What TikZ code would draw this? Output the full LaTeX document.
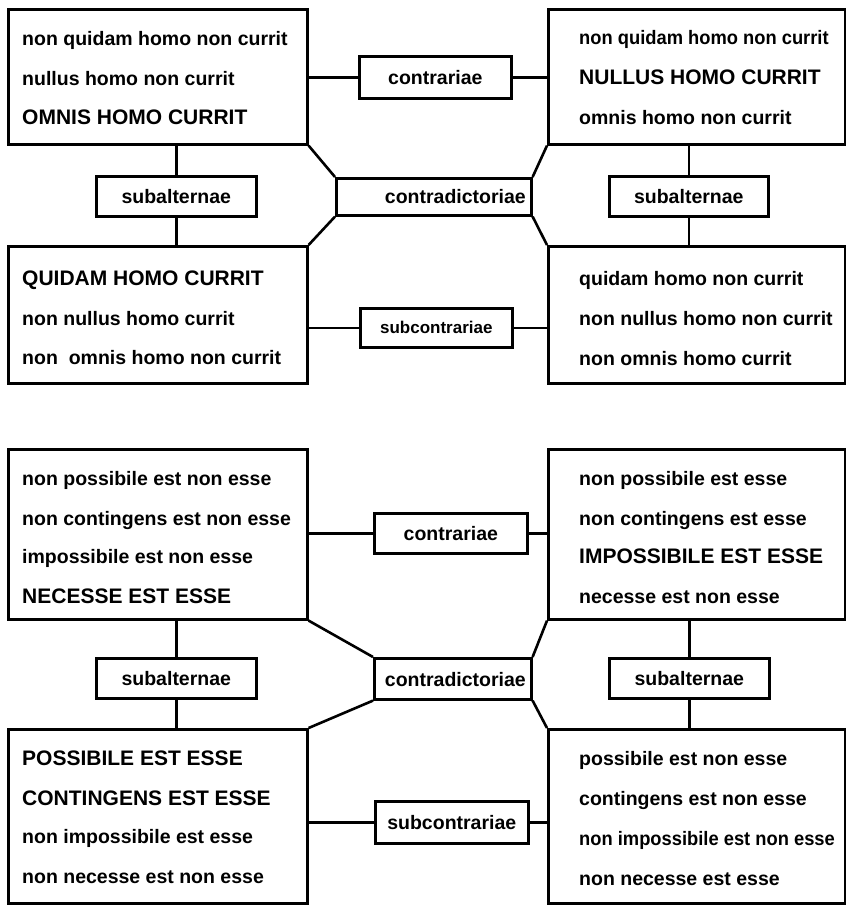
\documentclass[tikz,border=0pt]{standalone}
\usepackage{fontspec}
\setmainfont{Liberation Sans}
\newfontfamily\narrowsans{Liberation Sans}[FakeStretch=0.94]
\begin{document}
\begin{tikzpicture}[x=1pt,y=-1pt,
  box/.style={draw=black, line width=2.6pt, inner sep=0pt, anchor=north west},
  lc/.style={font=\fontsize{19.5}{22}\selectfont\bfseries, inner sep=0pt, anchor=base west},
  lcn/.style={font=\fontsize{19.5}{22}\selectfont\narrowsans\bfseries, inner sep=0pt, anchor=base west},
  uc/.style={font=\fontsize{21}{24}\selectfont\bfseries, inner sep=0pt, anchor=base west},
  lbl/.style={font=\fontsize{19.5}{22}\selectfont\bfseries},
  conn/.style={line width=2.6pt}]
\useasboundingbox (0,0) rectangle (846,905);
\fill[white] (0,0) rectangle (846,905);

% ---------- top square ----------
\node[box, minimum width=299, minimum height=135] (TL) at (7,8) {};
\node[box, minimum width=297, minimum height=135] (TR) at (547,8) {};
\node[box, minimum width=299, minimum height=137] (BL) at (7,245) {};
\node[box, minimum width=297, minimum height=137] (BR) at (547,245) {};

\node[lc] (tl1) at (22,45) {non quidam homo non currit};
\node[lc] (tl2) at (22,85) {nullus homo non currit};
\node[uc] (tl3) at (22,124) {OMNIS HOMO CURRIT};

\node[lcn] (tr1) at (579,44) {non quidam homo non currit};
\node[uc] (tr2) at (579,84) {NULLUS HOMO CURRIT};
\node[lc] (tr3) at (579,124) {omnis homo non currit};

\node[uc] (bl1) at (22,285) {QUIDAM HOMO CURRIT};
\node[lc] (bl2) at (22,325) {non nullus homo currit};
\node[lc] (bl3) at (22,364) {non\ \ omnis homo non currit};

\node[lc] (br1) at (579,285) {quidam homo non currit};
\node[lc] (br2) at (579,325) {non nullus homo non currit};
\node[lc] (br3) at (579,365) {non omnis homo currit};

\node[box, lbl, minimum width=152, minimum height=42] (ctrA) at (358,55) {contrariae};
\node[box, lbl, minimum width=160, minimum height=40] (salA) at (95,175) {subalternae};
\node[box, lbl, minimum width=159, minimum height=40] (sarA) at (608,175) {subalternae};
\node[box, minimum width=195, minimum height=37] (cdA) at (335,177) {};
\node[lbl, inner sep=0pt, anchor=base east] (cdAt) at (526,203) {contradictoriae};
\node[box, font=\fontsize{17}{20}\selectfont\bfseries, minimum width=152, minimum height=39] (scA) at (359,307) {subcontrariae};

\draw[conn] (ctrA.west) -- (ctrA.west -| TL.east);
\draw[conn] (ctrA.east) -- (ctrA.east -| TR.west);
\draw[conn] (salA.north) -- (salA.north |- TL.south);
\draw[conn] (salA.south) -- (salA.south |- BL.north);
\draw[conn] (sarA.north) -- (sarA.north |- TR.south);
\draw[conn] (sarA.south) -- (sarA.south |- BR.north);
\draw[conn] (TL.south east) -- (cdA.north west);
\draw[conn] (cdA.south west) -- (BL.north east);
\draw[conn] (TR.south west) -- (cdA.north east);
\draw[conn] (cdA.south east) -- (BR.north west);
\draw[conn] (scA.west) -- (scA.west -| BL.east);
\draw[conn] (scA.east) -- (scA.east -| BR.west);

% ---------- modal square ----------
\node[box, minimum width=299, minimum height=170] (TL2) at (7,448) {};
\node[box, minimum width=297, minimum height=170] (TR2) at (547,448) {};
\node[box, minimum width=299, minimum height=174] (BL2) at (7,728) {};
\node[box, minimum width=297, minimum height=174] (BR2) at (547,728) {};

\node[lc] (a1) at (22,485) {non possibile est non esse};
\node[lc] (a2) at (22,525) {non contingens est non esse};
\node[lc] (a3) at (22,563) {impossibile est non esse};
\node[uc] (a4) at (22,603) {NECESSE EST ESSE};

\node[lc] (b1) at (579,485) {non possibile est esse};
\node[lc] (b2) at (579,525) {non contingens est esse};
\node[uc] (b3) at (579,563) {IMPOSSIBILE EST ESSE};
\node[lc] (b4) at (579,603) {necesse est non esse};

\node[uc] (c1) at (22,765) {POSSIBILE EST ESSE};
\node[uc] (c2) at (22,805) {CONTINGENS EST ESSE};
\node[lc] (c3) at (22,843) {non impossibile est esse};
\node[lc] (c4) at (22,883) {non necesse est non esse};

\node[lc] (d1) at (579,765) {possibile est non esse};
\node[lc] (d2) at (579,805) {contingens est non esse};
\node[lcn] (d3) at (579,845) {non impossibile est non esse};
\node[lc] (d4) at (579,885) {non necesse est esse};

\node[box, lbl, minimum width=153, minimum height=40] (ctrB) at (373,512) {contrariae};
\node[box, lbl, minimum width=160, minimum height=40] (salB) at (95,657) {subalternae};
\node[box, lbl, minimum width=160, minimum height=40] (sarB) at (608,657) {subalternae};
\node[box, minimum width=157, minimum height=41] (cdB) at (373,657) {};
\node[lbl, inner sep=0pt, anchor=base east] (cdBt) at (526,686) {contradictoriae};
\node[box, lbl, minimum width=153, minimum height=42] (scB) at (374,800) {subcontrariae};

\draw[conn] (ctrB.west) -- (ctrB.west -| TL2.east);
\draw[conn] (ctrB.east) -- (ctrB.east -| TR2.west);
\draw[conn] (salB.north) -- (salB.north |- TL2.south);
\draw[conn] (salB.south) -- (salB.south |- BL2.north);
\draw[conn] (sarB.north) -- (sarB.north |- TR2.south);
\draw[conn] (sarB.south) -- (sarB.south |- BR2.north);
\draw[conn] (TL2.south east) -- (cdB.north west);
\draw[conn] (cdB.south west) -- (BL2.north east);
\draw[conn] (TR2.south west) -- (cdB.north east);
\draw[conn] (cdB.south east) -- (BR2.north west);
\draw[conn] (scB.west) -- (scB.west -| BL2.east);
\draw[conn] (scB.east) -- (scB.east -| BR2.west);
\end{tikzpicture}
\end{document}
